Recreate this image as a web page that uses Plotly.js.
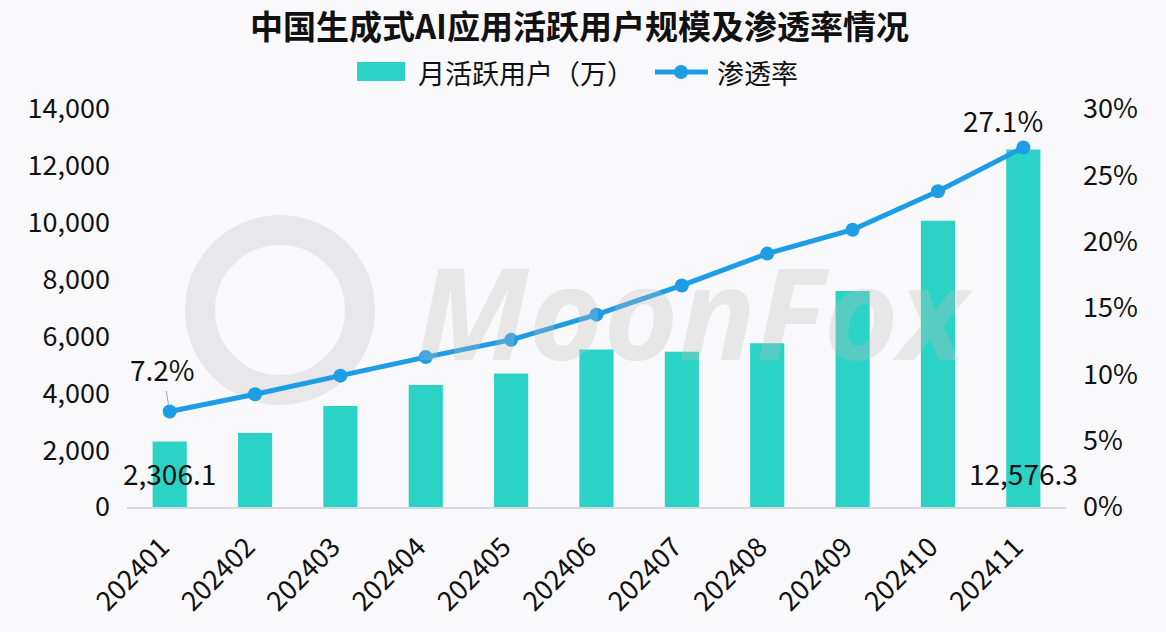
<!DOCTYPE html>
<html>
<head>
<meta charset="utf-8">
<script src="https://cdn.plot.ly/plotly-3.0.1.min.js"></script>
<style>
  html, body { margin: 0; padding: 0; background: #f9f9fb; }
  #chart { width: 1166px; height: 632px; }
</style>
</head>
<body>
<div id="chart"></div>
<script>
// ---- data ----
const months = ['202401','202402','202403','202404','202405','202406','202407','202408','202409','202410','202411'];
const users = [2306.1, 2600, 3550, 4290, 4700, 5540, 5460, 5760, 7600, 10070, 12576.3];   // 月活跃用户（万）
const rates = [7.2, 8.5, 9.9, 11.3, 12.6, 14.5, 16.7, 19.1, 20.9, 23.8, 27.1];               // 渗透率 (%)
const yLeftTicks = [0, 2000, 4000, 6000, 8000, 10000, 12000, 14000];
const yRightTicks = [0, 5, 10, 15, 20, 25, 30];
const yRightTickText = ['0%', '5%', '10%', '15%', '20%', '25%', '30%'];
const seriesNames = ['月活跃用户（万）', '渗透率'];

const FONT = '"Noto Sans CJK SC", "Noto Sans", sans-serif';
const TEAL = '#2bd3c6';
const BLUE = '#1c9de6';
const BG = '#f9f9fb';

const last = months.length - 1;
const fmtUsers = v => v.toLocaleString('en-US', { minimumFractionDigits: 1, maximumFractionDigits: 1 });

// plot area in pixels (for placing the hand-drawn legend / watermark)
const PL = 127, PR = 1066, PT = 109, PB = 507;
const px = x => (x - PL) / (PR - PL);
const py = y => (PB - y) / (PB - PT);

const traces = [
  {
    type: 'bar',
    name: seriesNames[0],
    x: months,
    y: users,
    yaxis: 'y',
    width: 0.4,
    marker: { color: TEAL },
    showlegend: false
  },
  {
    type: 'scatter',
    mode: 'lines+markers',
    name: seriesNames[1],
    x: months,
    y: rates,
    yaxis: 'y2',
    line: { color: BLUE, width: 5 },
    marker: { color: BLUE, size: 14 },
    cliponaxis: false,
    showlegend: false
  }
];

const labelFont = { family: FONT, size: 28, color: '#111' };
const tickFont = { family: FONT, size: 27, color: '#111' };

const annotations = [
  // line value labels (first and last)
  {
    x: 0, y: rates[0], xref: 'x', yref: 'y2',
    text: rates[0].toFixed(1) + '%',
    showarrow: true, arrowhead: 0, arrowwidth: 1, arrowcolor: '#8fa7c0',
    ax: -7, ay: -42, standoff: 7,
    font: labelFont
  },
  {
    x: last, y: rates[last], xref: 'x', yref: 'y2',
    text: rates[last].toFixed(1) + '%',
    showarrow: false, xshift: -20, yshift: 27,
    font: labelFont
  },
  // bar value labels (first and last)
  {
    x: 0, y: 0, xref: 'x', yref: 'y',
    text: fmtUsers(users[0]),
    showarrow: false, yshift: 34,
    font: labelFont
  },
  {
    x: last, y: 0, xref: 'x', yref: 'y',
    text: fmtUsers(users[last]),
    showarrow: false, yshift: 34,
    font: labelFont
  },
  // legend texts
  {
    xref: 'paper', yref: 'paper', x: px(416), y: py(72),
    xanchor: 'left', yanchor: 'middle', showarrow: false,
    text: seriesNames[0], font: { family: FONT, size: 27, color: '#111' }
  },
  {
    xref: 'paper', yref: 'paper', x: px(715), y: py(72),
    xanchor: 'left', yanchor: 'middle', showarrow: false,
    text: seriesNames[1], font: { family: FONT, size: 27, color: '#111' }
  },
  // watermark
  {
    text: '<b><i>MoonFox</i></b>',
    xref: 'paper', yref: 'paper',
    x: px(695), y: py(310),
    showarrow: false,
    font: { family: '"Open Sans", "Noto Sans", sans-serif', size: 128, color: 'rgba(190,190,190,0.3)' }
  }
];

const shapes = [
  // legend swatches
  { type: 'rect', xref: 'paper', yref: 'paper', x0: px(357), x1: px(405), y0: py(81), y1: py(62),
    fillcolor: TEAL, line: { width: 0 } },
  { type: 'line', xref: 'paper', yref: 'paper', x0: px(655), x1: px(708), y0: py(72), y1: py(72),
    line: { color: BLUE, width: 5 } },
  { type: 'circle', xref: 'paper', yref: 'paper', x0: px(674), x1: px(688), y0: py(79), y1: py(65),
    fillcolor: BLUE, line: { width: 0 } },
  // watermark logo ring
  { type: 'circle', xref: 'paper', yref: 'paper', layer: 'below',
    x0: px(200), x1: px(360), y0: py(390), y1: py(230),
    fillcolor: 'rgba(0,0,0,0)', line: { color: '#e8e8ea', width: 30 } }
];

const layout = {
  width: 1166,
  height: 632,
  paper_bgcolor: BG,
  plot_bgcolor: BG,
  margin: { l: PL, r: 1166 - PR, t: PT, b: 632 - PB },
  font: { family: FONT, size: 26, color: '#111' },
  title: {
    text: '中国生成式AI应用活跃用户规模及渗透率情况',
    font: { family: FONT, size: 33, color: '#111', weight: 'bold' },
    x: 0.497, xref: 'container', xanchor: 'center',
    y: 1 - 27 / 632, yref: 'container', yanchor: 'middle'
  },
  showlegend: false,
  bargap: 0.6,
  xaxis: {
    type: 'category',
    tickangle: -45,
    showgrid: false,
    zeroline: false,
    showline: true,
    linecolor: '#d5d8de',
    linewidth: 1.5,
    ticks: '',
    ticklabelstandoff: 12,
    ticklabelshift: -8,
    tickfont: tickFont,
    range: [-0.5, 10.5]
  },
  yaxis: {
    range: [0, 14000],
    tickvals: yLeftTicks,
    tickformat: ',',
    showgrid: false,
    zeroline: false,
    showline: false,
    ticks: '',
    ticklabelstandoff: 16,
    tickfont: tickFont
  },
  yaxis2: {
    range: [0, 30],
    tickvals: yRightTicks,
    ticktext: yRightTickText,
    overlaying: 'y',
    side: 'right',
    showgrid: false,
    zeroline: false,
    showline: false,
    ticks: '',
    ticklabelstandoff: 16,
    tickfont: tickFont
  },
  annotations: annotations,
  shapes: shapes
};

Plotly.newPlot('chart', traces, layout, { displayModeBar: false, staticPlot: true });
</script>
</body>
</html>
